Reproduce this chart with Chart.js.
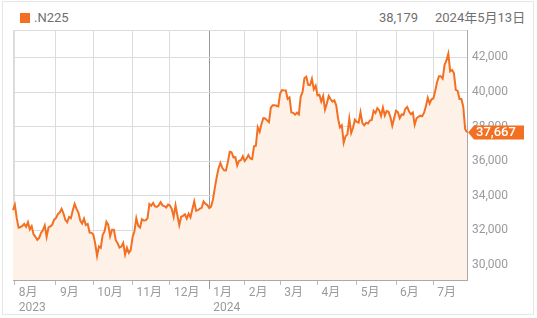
<!DOCTYPE html>
<html lang="ja">
<head>
<meta charset="UTF-8">
<meta name="viewport" content="width=device-width, initial-scale=1.0">
<title>.N225</title>
<script src="https://cdn.jsdelivr.net/npm/chart.js"></script>
<style>
    html, body { margin: 0; padding: 0; background: #fff; }
    body { width: 537px; height: 318px; position: relative; overflow: hidden;
           font-family: Roboto, 'Noto Sans CJK JP', sans-serif; }
    .card { position: absolute; left: 2px; top: 1px; width: 530px; height: 312px; border: 1px solid #e6e6e6; }
    .swatch { position: absolute; left: 20px; top: 13px; width: 10px; height: 10px; background: #f37022; }
    .hdr { position: absolute; top: 10px; font-size: 13px; line-height: 15px; color: #707070; white-space: nowrap; }
    #wrap { position: absolute; left: 0; top: 0; width: 537px; height: 318px; }
</style>
</head>
<body>
<div class="card"></div>
<div class="swatch"></div>
<div class="hdr" style="left:34px">.N225</div>
<div class="hdr" style="right:119px">38,179</div>
<div class="hdr" style="left:435px">2024年5月13日</div>
<div id="wrap"><canvas id="chart"></canvas></div>

<script>
// trading days, Nikkei 225 close
const dates = [
    '2023-07-31',
    '2023-08-01','2023-08-02','2023-08-03','2023-08-04','2023-08-07','2023-08-08','2023-08-09','2023-08-10','2023-08-14','2023-08-15','2023-08-16','2023-08-17','2023-08-18','2023-08-21','2023-08-22','2023-08-23','2023-08-24','2023-08-25','2023-08-28','2023-08-29','2023-08-30','2023-08-31',
    '2023-09-01','2023-09-04','2023-09-05','2023-09-06','2023-09-07','2023-09-08','2023-09-11','2023-09-12','2023-09-13','2023-09-14','2023-09-15','2023-09-19','2023-09-20','2023-09-21','2023-09-22','2023-09-25','2023-09-26','2023-09-27','2023-09-28','2023-09-29',
    '2023-10-02','2023-10-03','2023-10-04','2023-10-05','2023-10-06','2023-10-10','2023-10-11','2023-10-12','2023-10-13','2023-10-16','2023-10-17','2023-10-18','2023-10-19','2023-10-20','2023-10-23','2023-10-24','2023-10-25','2023-10-26','2023-10-27','2023-10-30','2023-10-31',
    '2023-11-01','2023-11-02','2023-11-06','2023-11-07','2023-11-08','2023-11-09','2023-11-10','2023-11-13','2023-11-14','2023-11-15','2023-11-16','2023-11-17','2023-11-20','2023-11-21','2023-11-22','2023-11-24','2023-11-27','2023-11-28','2023-11-29','2023-11-30',
    '2023-12-01','2023-12-04','2023-12-05','2023-12-06','2023-12-07','2023-12-08','2023-12-11','2023-12-12','2023-12-13','2023-12-14','2023-12-15','2023-12-18','2023-12-19','2023-12-20','2023-12-21','2023-12-22','2023-12-25','2023-12-26','2023-12-27','2023-12-28','2023-12-29',
    '2024-01-04','2024-01-05','2024-01-09','2024-01-10','2024-01-11','2024-01-12','2024-01-15','2024-01-16','2024-01-17','2024-01-18','2024-01-19','2024-01-22','2024-01-23','2024-01-24','2024-01-25','2024-01-26','2024-01-29','2024-01-30','2024-01-31',
    '2024-02-01','2024-02-02','2024-02-05','2024-02-06','2024-02-07','2024-02-08','2024-02-09','2024-02-13','2024-02-14','2024-02-15','2024-02-16','2024-02-19','2024-02-20','2024-02-21','2024-02-22','2024-02-26','2024-02-27','2024-02-28','2024-02-29',
    '2024-03-01','2024-03-04','2024-03-05','2024-03-06','2024-03-07','2024-03-08','2024-03-11','2024-03-12','2024-03-13','2024-03-14','2024-03-15','2024-03-18','2024-03-19','2024-03-21','2024-03-22','2024-03-25','2024-03-26','2024-03-27','2024-03-28','2024-03-29',
    '2024-04-01','2024-04-02','2024-04-03','2024-04-04','2024-04-05','2024-04-08','2024-04-09','2024-04-10','2024-04-11','2024-04-12','2024-04-15','2024-04-16','2024-04-17','2024-04-18','2024-04-19','2024-04-22','2024-04-23','2024-04-24','2024-04-25','2024-04-26','2024-04-30',
    '2024-05-01','2024-05-02','2024-05-07','2024-05-08','2024-05-09','2024-05-10','2024-05-13','2024-05-14','2024-05-15','2024-05-16','2024-05-17','2024-05-20','2024-05-21','2024-05-22','2024-05-23','2024-05-24','2024-05-27','2024-05-28','2024-05-29','2024-05-30','2024-05-31',
    '2024-06-03','2024-06-04','2024-06-05','2024-06-06','2024-06-07','2024-06-10','2024-06-11','2024-06-12','2024-06-13','2024-06-14','2024-06-17','2024-06-18','2024-06-19','2024-06-20','2024-06-21','2024-06-24','2024-06-25','2024-06-26','2024-06-27','2024-06-28',
    '2024-07-01','2024-07-02','2024-07-03','2024-07-04','2024-07-05','2024-07-08','2024-07-09','2024-07-10','2024-07-11','2024-07-12','2024-07-16','2024-07-17','2024-07-18','2024-07-19','2024-07-22','2024-07-23','2024-07-24','2024-07-25','2024-07-26'
];

const closes = [
    33172,
    33477, 32708, 32159, 32193, 32255, 32377, 32204, 32474, 32060, 32239, 31767, 31626, 31451, 31566, 31857, 32010, 32287, 31624, 32170, 32227, 32333, 32619,
    32711, 32939, 33037, 33241, 32991, 32607, 32468, 32776, 32707, 33168, 33533, 33243, 33024, 32571, 32402, 32679, 32315, 32372, 31873, 31858,
    31760, 31238, 30527, 31075, 30995, 31747, 31937, 32495, 32316, 31659, 32040, 32042, 31431, 31259, 31000, 31062, 31270, 30602, 30992, 30697, 30859,
    31602, 31950, 32708, 32272, 32166, 32646, 32568, 32585, 32696, 33520, 33424, 33585, 33388, 33354, 33452, 33626, 33448, 33408, 33321, 33487,
    33432, 33231, 32776, 33446, 32858, 32308, 32792, 32844, 32926, 32686, 32971, 32759, 33219, 33676, 33140, 33169, 33254, 33306, 33681, 33540, 33464,
    33288, 33377, 33763, 34442, 35050, 35577, 35902, 35619, 35478, 35466, 35963, 36547, 36518, 36226, 36236, 35751, 36027, 36066, 36287,
    36011, 36158, 36354, 36161, 36120, 36863, 36897, 37964, 37703, 38158, 38487, 38470, 38364, 38262, 39099, 39234, 39240, 39208, 39166,
    39911, 40109, 40098, 40091, 39599, 39689, 38820, 38798, 38696, 38807, 38708, 39740, 40004, 40816, 40888, 40414, 40398, 40763, 40168, 40369,
    39803, 39839, 39452, 39773, 38992, 39347, 39773, 39582, 39443, 39524, 39233, 38471, 37962, 38080, 37068, 37439, 37552, 38460, 37628, 37935, 38406,
    38274, 38236, 38835, 38202, 38074, 38229, 38179, 38356, 38386, 38920, 38787, 39070, 38947, 38617, 39103, 38646, 38900, 38855, 38557, 38054, 38488,
    38923, 38837, 38490, 38704, 38684, 39038, 39135, 38877, 38720, 38815, 38102, 38482, 38571, 38633, 38596, 38805, 39173, 39667, 39342, 39583,
    39631, 40075, 40581, 40914, 40912, 40781, 41580, 41832, 42224, 41191, 41275, 41098, 40126, 40064, 39599, 39594, 39155, 37870, 37667
];

const yTicks = [30000, 32000, 34000, 36000, 38000, 40000, 42000];
const yMin = 29130;
const yMax = 43590;

const orange = '#f37022';
const fontFamily = "Roboto, 'Noto Sans CJK JP', sans-serif";

function isMonthStart(i) {
    return i > 0 && dates[i].slice(5, 7) !== dates[i - 1].slice(5, 7);
}

function monthLabel(i) {
    if (!isMonthStart(i)) return '';
    const y = dates[i].slice(0, 4);
    const m = dates[i].slice(5, 7);
    const lbl = Number(m) + '月';
    if (m === '01' || i === 1) return [lbl, y];
    return lbl;
}

function isJan(i) {
    return isMonthStart(i) && dates[i].slice(5, 7) === '01';
}

// top/left frame, longer Jan tick, last value tag
const decor = {
    id: 'decor',
    beforeDatasetsDraw(chart) {
        const { ctx, chartArea: a, scales } = chart;
        ctx.save();
        ctx.strokeStyle = '#dcdcdc';
        ctx.lineWidth = 1;
        ctx.beginPath();
        ctx.moveTo(a.left + 0.5, a.bottom);
        ctx.lineTo(a.left + 0.5, a.top + 0.5);
        ctx.lineTo(a.right, a.top + 0.5);
        ctx.stroke();
        ctx.strokeStyle = '#999';
        dates.forEach((d, i) => {
            if (!isJan(i)) return;
            const x = Math.round(scales.x.getPixelForValue(i)) + 0.5;
            ctx.beginPath();
            ctx.moveTo(x, a.bottom);
            ctx.lineTo(x, a.bottom + 9);
            ctx.stroke();
        });
        ctx.restore();
    },
    afterDraw(chart) {
        const { ctx, chartArea: a, scales } = chart;
        const last = closes[closes.length - 1];
        const y = scales.y.getPixelForValue(last);
        const x0 = a.right + 1;
        ctx.save();
        ctx.fillStyle = orange;
        ctx.beginPath();
        ctx.moveTo(x0, y);
        ctx.lineTo(x0 + 6, y - 7);
        ctx.lineTo(x0 + 56, y - 7);
        ctx.lineTo(x0 + 56, y + 7);
        ctx.lineTo(x0 + 6, y + 7);
        ctx.closePath();
        ctx.fill();
        ctx.fillStyle = '#fff';
        ctx.font = '500 13px ' + fontFamily;
        ctx.textBaseline = 'middle';
        ctx.fillText(last.toLocaleString('en-US'), x0 + 8, y + 0.5);
        ctx.restore();
    }
};

new Chart(document.getElementById('chart'), {
    type: 'line',
    data: {
        labels: dates,
        datasets: [{
            label: '.N225',
            data: closes,
            borderColor: orange,
            borderWidth: 2,
            backgroundColor: '#fef1e8',
            fill: 'start',
            pointRadius: 0,
            tension: 0
        }]
    },
    options: {
        responsive: true,
        maintainAspectRatio: false,
        animation: false,
        layout: { padding: { left: 13, top: 30, right: 0, bottom: 0 } },
        plugins: { legend: { display: false }, tooltip: { enabled: false } },
        scales: {
            x: {
                type: 'category',
                grid: {
                    color: c => isJan(c.index) ? '#999' : (isMonthStart(c.index) ? '#dcdcdc' : 'rgba(0,0,0,0)'),
                    tickColor: c => isMonthStart(c.index) ? '#bbb' : 'rgba(0,0,0,0)',
                    tickLength: 5
                },
                border: { color: '#aaa' },
                ticks: {
                    autoSkip: false,
                    maxRotation: 0,
                    minRotation: 0,
                    align: 'start',
                    labelOffset: 4,
                    padding: 1,
                    color: '#9a9a9a',
                    font: { family: fontFamily, size: 12 },
                    callback: (v, i) => monthLabel(i)
                },
                afterFit: s => { s.height = 38; }
            },
            y: {
                position: 'right',
                min: yMin,
                max: yMax,
                afterBuildTicks: s => { s.ticks = yTicks.map(v => ({ value: v })); },
                grid: { color: '#dcdcdc', drawTicks: false },
                border: { color: '#aaa' },
                ticks: {
                    padding: 5,
                    color: '#9a9a9a',
                    font: { family: fontFamily, size: 12 },
                    callback: v => v.toLocaleString('en-US')
                },
                afterFit: s => { s.width = 70; }
            }
        }
    },
    plugins: [decor]
});
</script>
</body>
</html>
